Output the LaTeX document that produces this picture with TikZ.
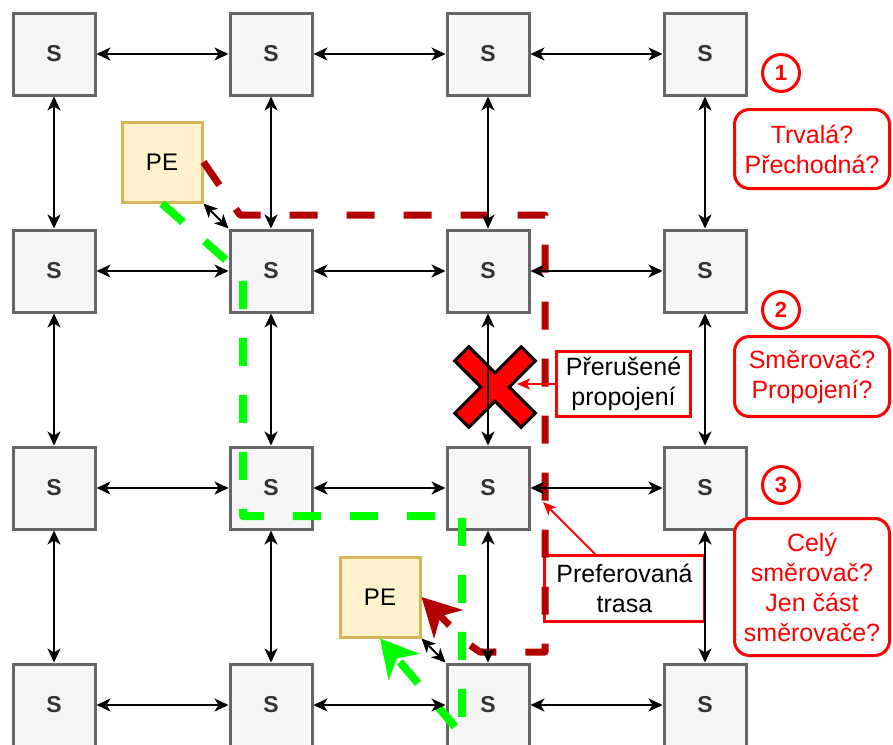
\documentclass[tikz,border=0pt]{standalone}
\usepackage{fontspec}
\setmainfont{Liberation Sans}
\usetikzlibrary{arrows.meta}
\definecolor{boxfill}{HTML}{F5F5F5}
\definecolor{boxline}{HTML}{666666}
\definecolor{pefill}{HTML}{FFF2CC}
\definecolor{peline}{HTML}{D6B656}
\definecolor{routered}{HTML}{B20000}
\definecolor{routegreen}{HTML}{00FF00}
\definecolor{lblred}{HTML}{FF0000}
\definecolor{stext}{HTML}{333333}
\begin{document}
\begin{tikzpicture}[x=1pt,y=-1pt,
  sbox/.style={draw=boxline,fill=boxfill,line width=3pt,minimum size=82pt,inner sep=0pt,
    font=\fontsize{23}{28}\selectfont\bfseries,text=stext},
  pebox/.style={draw=peline,fill=pefill,line width=3pt,minimum size=80pt,inner sep=0pt,
    font=\fontsize{24}{29}\selectfont,text=black},
  link/.style={{Stealth[length=14pt,width=13pt,inset=4pt]}-{Stealth[length=14pt,width=13pt,inset=4pt]},line width=2pt,draw=black},
  lbl/.style={draw=lblred,line width=3pt,fill=white,inner sep=0pt,align=center,
    font=\fontsize{25}{30}\selectfont,text=black},
  qbox/.style={draw=lblred,line width=3pt,fill=white,rounded corners=15pt,inner sep=0pt,align=center,
    font=\fontsize{25}{30}\selectfont,text=lblred,minimum width=155pt},
  numc/.style={circle,draw=lblred,line width=3pt,fill=white,minimum size=37pt,inner sep=0pt,
    font=\fontsize{22}{26}\selectfont\bfseries,text=lblred},
  redroute/.style={draw=routered,line width=7pt,dash pattern=on 28pt off 29pt,line join=round,
    -{Stealth[length=38pt,width=40pt,inset=11pt]}},
  greenroute/.style={draw=routegreen,line width=8pt,dash pattern=on 28pt off 29pt,line join=round,
    -{Stealth[length=37pt,width=40pt,inset=11pt]}},
  thinred/.style={draw=lblred,line width=2pt,-{Stealth[length=13pt,width=11pt,inset=3pt]}},
  crossmark/.style={draw=black,fill=lblred,line width=3pt,line join=miter}
]
\useasboundingbox (0,0) rectangle (893,744);

% switches
\foreach \r in {1,...,4}{
  \foreach \c in {1,...,4}{
    \node[sbox] (s\r\c) at ({54+217*(\c-1)},{54+217*(\r-1)}) {S};
  }
}

% processing elements
\node[pebox] (pe1) at (162,162) {PE};
\node[pebox] (pe2) at (380,597) {PE};

% labels
\node[lbl,minimum width=134pt,minimum height=65pt] (brk) at (623.5,384) {Přerušené\\propojení};
\node[lbl,minimum width=160pt,minimum height=66pt] (pref) at (624.5,588.5) {Preferovaná\\trasa};

\node[numc] (n1) at (781,73) {1};
\node[numc] (n2) at (781,310) {2};
\node[numc] (n3) at (781,485) {3};

\node[qbox,minimum height=79pt] (q1) at (812,149) {Trvalá?\\Přechodná?};
\node[qbox,minimum height=80pt] (q2) at (812,376.5) {Směrovač?\\Propojení?};
\node[qbox,minimum height=137pt] (q3) at (812,587) {Celý\\směrovač?\\Jen část\\směrovače?};

% routes
\draw[redroute] (pe1.east) -- (240,215) -- (545,215) -- (545,652) -- (480,652) -- (467,643) -- (pe2.east);
\draw[greenroute] (pe1.south) -- (243,275) -- (243,516) -- (462,516) -- (462,735) -- (pe2.south);

% broken link mark
\begin{scope}[shift={(495,387)},rotate=45]
  \draw[crossmark] (10,10) -- (47,10) -- (47,-10) -- (10,-10) -- (10,-47) -- (-10,-47)
    -- (-10,-10) -- (-47,-10) -- (-47,10) -- (-10,10) -- (-10,47) -- (10,47) -- cycle;
\end{scope}

% mesh links
\foreach \r in {1,...,4}{
  \foreach \c/\d in {1/2,2/3,3/4}{
    \draw[link] (s\r\c) -- (s\r\d);
  }
}
\foreach \c in {1,...,4}{
  \foreach \r/\q in {1/2,2/3,3/4}{
    \draw[link] (s\r\c) -- (s\q\c);
  }
}
\draw[link] (pe1.south east) -- (s22.north west);
\draw[link] (pe2.south east) -- (s43.north west);

% label pointers
\coordinate (xhit) at (517,384);
\coordinate (rhit) at (543,502);
\draw[thinred] (brk.west) -- (xhit);
\draw[thinred] ([xshift=52pt]pref.north west) -- (rhit);
\end{tikzpicture}
\end{document}
